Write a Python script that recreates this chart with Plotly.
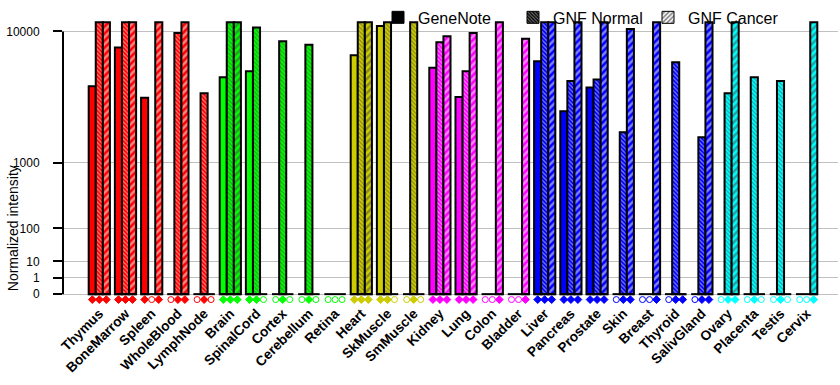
import math
import plotly.graph_objects as go

tissues = ["Thymus", "BoneMarrow", "Spleen", "WholeBlood", "LymphNode", "Brain", "SpinalCord",
           "Cortex", "Cerebellum", "Retina", "Heart", "SkMuscle", "SmMuscle", "Kidney", "Lung",
           "Colon", "Bladder", "Liver", "Pancreas", "Prostate", "Skin", "Breast", "Thyroid",
           "SalivGland", "Ovary", "Placenta", "Testis", "Cervix"]
tissue_colors = (["#FF0000"] * 5 + ["#00FF00"] * 5 + ["#CCCC00"] * 3 + ["#FF00FF"] * 4
                 + ["#0000FF"] * 7 + ["#00FFFF"] * 4)

N = None
genenote = [4600, 8100, 3800, N, N, 5300, 5800, N, N, N, 7300, 10700, N, 6100, 3850, N, N,
            6700, 3000, 4500, N, N, N, N, N, N, N, N]
gnf_normal = [11200, 11200, N, 9800, 4100, 11200, 10500, 8800, 8400, N, 11200, 11200, 11200,
              8700, 5800, N, N, 11200, 5000, 5100, 2000, N, 6600, 1800, 4100, 5300, 5000, N]
gnf_cancer = [11200, 11200, 11200, 11200, N, 11200, N, N, N, N, 11200, N, N, 9400, 9800,
              11200, 9100, 11200, 11200, 11200, 10300, 11200, 0, 11200, 11200, N, N, 11200]

tick_vals_raw = [0, 1, 10, 100, 1000, 10000]
tick_text = ["0", "1", "10", "100", "1000", "10000"]

P = math.log10(2)


def tr(v):
    if v is None:
        return None
    return v ** P if v > 0 else 0.0


FONT = "Liberation Sans, Arial, sans-serif"
x = list(range(len(tissues)))
whites = ["white"] * len(x)

fig = go.Figure()

# real bars
fig.add_trace(go.Bar(
    x=x, y=[tr(v) for v in genenote], name="GeneNote", showlegend=False,
    marker=dict(color=tissue_colors, line=dict(color="black", width=2)),
    offsetgroup="a"))
fig.add_trace(go.Bar(
    x=x, y=[tr(v) for v in gnf_normal], name="GNF Normal", showlegend=False,
    marker=dict(color=tissue_colors, line=dict(color="black", width=2),
                pattern=dict(shape="\\", fgcolor=whites, bgcolor=tissue_colors,
                             size=3, solidity=0.4)),
    offsetgroup="b"))
fig.add_trace(go.Bar(
    x=x, y=[tr(v) for v in gnf_cancer], name="GNF Cancer", showlegend=False,
    marker=dict(color=tissue_colors, line=dict(color="black", width=2),
                pattern=dict(shape="/", fgcolor=tissue_colors, bgcolor=whites,
                             size=5, solidity=0.5)),
    offsetgroup="c"))

# legend entries
fig.add_trace(go.Bar(x=[None], y=[None], name="GeneNote",
                     marker=dict(color="black", line=dict(color="black", width=1))))
fig.add_trace(go.Bar(x=[None], y=[None], name="GNF Normal",
                     marker=dict(color="black", line=dict(color="black", width=1),
                                 pattern=dict(shape="\\", fgcolor="white", bgcolor="black",
                                              size=3, solidity=0.4))))
fig.add_trace(go.Bar(x=[None], y=[None], name="GNF Cancer",
                     marker=dict(color="black", line=dict(color="black", width=1),
                                 pattern=dict(shape="/", fgcolor="black", bgcolor="white",
                                              size=4, solidity=0.5))))

# baseline segments under each group
bx, by = [], []
for i in x:
    bx += [i - 0.41, i + 0.41, None]
    by += [0, 0, None]
fig.add_trace(go.Scatter(x=bx, y=by, mode="lines", line=dict(color="black", width=2),
                         showlegend=False, hoverinfo="skip", cliponaxis=False))

# presence markers
bw = 0.8 / 3
for k, series in enumerate([genenote, gnf_normal, gnf_cancer]):
    fig.add_trace(go.Scatter(
        x=[i + (k - 1) * bw for i in x], y=[-0.33] * len(x), mode="markers",
        marker=dict(symbol=["diamond" if v is not None else "circle-open" for v in series],
                    color=tissue_colors, size=6, line=dict(width=1, color=tissue_colors)),
        showlegend=False, hoverinfo="skip", cliponaxis=False))

W, H = 840, 385
L, R = 63, 2
y_zero = 294
ppu = 263 / 16.0
y_top_u = 17.0
y_bot_u = -0.6
T = y_zero - y_top_u * ppu
B = H - (y_zero - y_bot_u * ppu)
ph = H - T - B
pw = W - L - R
pitch = 26.2
x0 = -(99.3 - L) / pitch
x1 = x0 + pw / pitch


def ypaper(px):
    return (H - B - px) / ph


fig.update_layout(
    width=W, height=H, margin=dict(l=L, r=R, t=T, b=B, autoexpand=False),
    paper_bgcolor="white", plot_bgcolor="white",
    barmode="group", bargap=0.19, bargroupgap=0,
    font=dict(family=FONT, size=12, color="black"),
    showlegend=True,
    legend=dict(orientation="h", x=(378 - L) / pw, xanchor="left",
                y=ypaper(17), yanchor="middle",
                font=dict(size=16, family=FONT), bgcolor="rgba(0,0,0,0)",
                entrywidth=90, entrywidthmode="pixels", itemclick=False),
    xaxis=dict(range=[x0, x1], tickmode="array", tickvals=x, ticktext=tissues,
               tickangle=-45, showgrid=False, zeroline=False, showline=False,
               ticks="", tickfont=dict(family=FONT, size=13.7, weight="bold"),
               ticklabelstandoff=-2),
    yaxis=dict(range=[y_bot_u, y_top_u], tickmode="array",
               tickvals=[tr(v) for v in tick_vals_raw],
               ticktext=tick_text, showgrid=True, gridcolor="#C0C0C0", gridwidth=1,
               zeroline=False, showline=False,
               ticks="outside", ticklen=9, tickwidth=2, tickcolor="black",
               tickfont=dict(family=FONT, size=12), ticklabelstandoff=11),
    shapes=[dict(type="line", xref="paper", yref="y", x0=0, x1=0, y0=0, y1=16,
                 line=dict(color="black", width=2))],
    annotations=[dict(text="Normalized intensity", textangle=-90, xref="paper", yref="paper",
                      x=(13 - L) / pw, y=ypaper(228), xanchor="center",
                      yanchor="middle", showarrow=False,
                      font=dict(family=FONT, size=14))],
)

fig.write_html("out.html", config={"displayModeBar": False},
               post_script="document.body.style.margin='0px';")
